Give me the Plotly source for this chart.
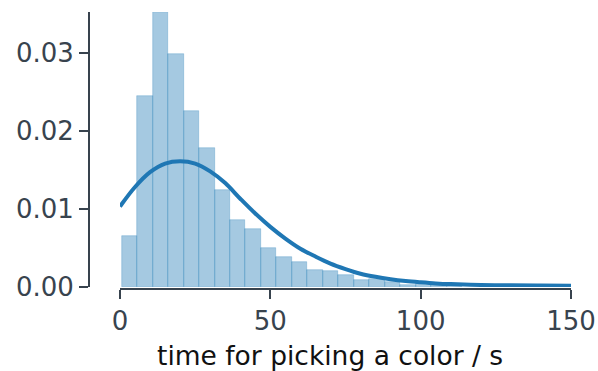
import plotly.graph_objects as go

# Histogram of picking times (density-normalised), equal-width bins
bin_start = 0.57
bin_width = 5.145
density = [
    0.0065, 0.0244, 0.0352, 0.0298, 0.0225, 0.0178, 0.0124, 0.0086,
    0.0074, 0.0050, 0.0038, 0.0032, 0.0022, 0.0021, 0.0015, 0.0009,
    0.0010, 0.0006, 0.0002, 0.0005, 0.0002, 0.0002,
]

# Smooth density estimate
curve_x = [0, 5, 10, 15, 20, 25, 30, 35, 40, 45, 50, 55, 60, 65, 70, 75,
           80, 85, 90, 95, 100, 105, 110, 120, 130, 140, 150]
curve_y = [0.0103, 0.0128, 0.0147, 0.0158, 0.0161, 0.0158, 0.0148, 0.0133,
           0.0113, 0.0094, 0.0077, 0.0062, 0.0049, 0.0039, 0.0030, 0.0023,
           0.0017, 0.0013, 0.0010, 0.00077, 0.00060, 0.00046, 0.00037,
           0.00027, 0.00021, 0.00018, 0.00016]

x_ticks = [0, 50, 100, 150]
y_ticks = [0.00, 0.01, 0.02, 0.03]
x_label = "time for picking a color / s"

centers = [bin_start + bin_width * (i + 0.5) for i in range(len(density))]

AXIS = "#38434e"
W, H = 598, 371

fig = go.Figure()
fig.add_trace(go.Bar(
    x=centers, y=density, width=bin_width,
    marker=dict(color="rgba(31,119,180,0.4)",
                line=dict(color="rgba(31,119,180,0.45)", width=0.6)),
    showlegend=False, hoverinfo="skip",
))
fig.add_trace(go.Scatter(
    x=curve_x, y=curve_y, mode="lines",
    line=dict(color="#1f77b4", width=4, shape="spline", smoothing=1.0),
    showlegend=False, hoverinfo="skip",
))

# x-axis label, centred on the full axes box (spine trimmed to the data range)
fig.add_annotation(
    text=x_label, xref="paper", yref="paper",
    x=330 / W, y=(H - 355) / H, xanchor="center", yanchor="middle",
    showarrow=False, font=dict(size=26.5, color="#111111"),
)

fig.update_layout(
    template="none",
    width=W, height=H,
    margin=dict(l=0, r=0, t=0, b=0, pad=0),
    paper_bgcolor="white", plot_bgcolor="white",
    bargap=0,
    font=dict(family="DejaVu Sans", color=AXIS, size=26),
    xaxis=dict(
        automargin=False,
        domain=[120 / W, 571 / W],
        range=[0, 150],
        anchor="free", position=(H - 289) / H,
        tickvals=x_ticks, ticktext=[str(v) for v in x_ticks],
        ticks="outside", ticklen=9, tickwidth=2, tickcolor=AXIS,
        showline=True, linecolor=AXIS, linewidth=2,
        showgrid=False, zeroline=False,
        tickfont=dict(size=26, color=AXIS),
    ),
    yaxis=dict(
        automargin=False,
        domain=[(H - 287) / H, (H - 12) / H],
        range=[0, 0.0352],
        anchor="free", position=89 / W,
        tickvals=y_ticks, ticktext=[f"{v:.2f}" for v in y_ticks],
        ticks="outside", ticklen=9, tickwidth=2, tickcolor=AXIS,
        showline=True, linecolor=AXIS, linewidth=2,
        showgrid=False, zeroline=False,
        tickfont=dict(size=26, color=AXIS),
    ),
)

fig.write_html("out.html")
